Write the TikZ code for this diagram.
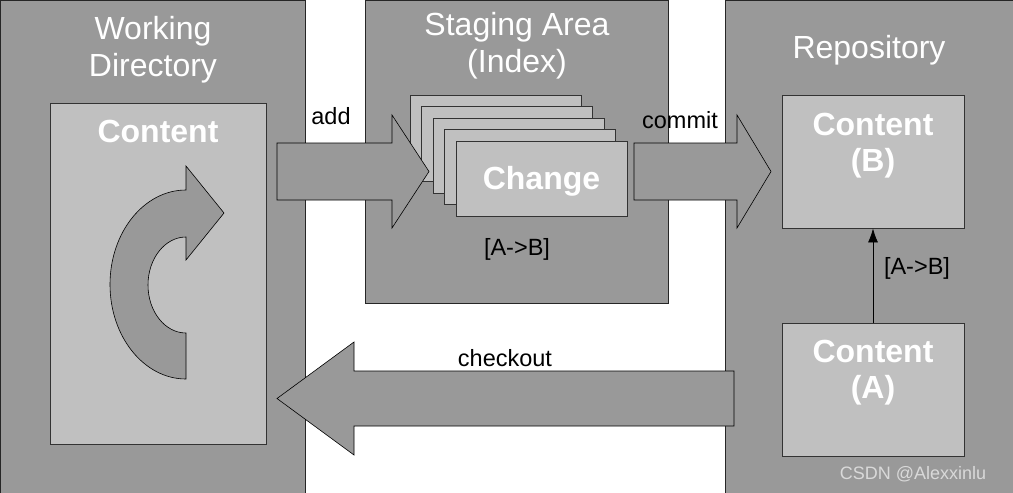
\documentclass[tikz,border=0pt]{standalone}
\usepackage{fontspec}
\setmainfont{Liberation Sans}
\usetikzlibrary{positioning,arrows.meta}
\definecolor{panelgray}{HTML}{999999}
\definecolor{boxgray}{HTML}{C0C0C0}
\begin{document}
\begin{tikzpicture}[
    x=1pt, y=1pt,
    panel/.style={draw=black!85, fill=panelgray, line width=0.8pt},
    box/.style={draw=black!80, fill=boxgray, line width=0.8pt, inner sep=0pt},
    card/.style={box, minimum width=171pt, minimum height=75pt},
    title/.style={text=white, align=center, font=\fontsize{32}{37}\selectfont},
    boxtext/.style={text=white, align=center, font=\fontsize{32}{36}\selectfont\bfseries},
    label/.style={text=black, font=\fontsize{23.5}{26}\selectfont},
    flow/.style={draw=black, fill=panelgray, line width=0.6pt}
]
\useasboundingbox (0,0) rectangle (1013,-493);

% the three areas
\draw[panel] (0,0) rectangle (305,-495);
\draw[panel] (365,0) rectangle (668,-303);
\draw[panel] (725,0) rectangle (1015,-495);
\node[title] (wdtitle) at (153,-50) {Working\\Directory};
\node[title] (satitle) at (517,-46) {Staging Area\\(Index)};
\node[title] (repotitle) at (869,-50) {Repository};

% working directory
\node[box, minimum width=216pt, minimum height=341pt] (wdbox) at (158,-273.5) {};
\node[boxtext] (wdlabel) at (158,-131) {Content};
\draw[flow] (186,-190) arc[start angle=90, end angle=270, x radius=76pt, y radius=94.5pt]
    -- (186,-333) arc[start angle=270, end angle=90, x radius=38pt, y radius=48pt]
    -- (186,-260) -- (224,-213) -- (186,-166) -- cycle;

% staging area
\foreach \i in {0,...,4}
    \node[card] (card\i) at (495.5+11.5*\i, -132.5-11.5*\i) {};
\node[boxtext] (change) at (541.5,-181) {Change};
\node[label] (salabel) at (517,-249) {[A->B]};

% repository
\node[box, minimum width=182pt, minimum height=133pt] (boxB) at (873,-161.5) {};
\node[boxtext] (contB) at (873,-146) {Content\\(B)};
\node[box, minimum width=182pt, minimum height=133pt] (boxA) at (873,-389.5) {};
\node[boxtext] (contA) at (873,-373) {Content\\(A)};
\draw[-{Latex[length=14pt,width=10pt]}, line width=0.8pt] (boxA.north) -- (boxB.south);
\node[label] (repolabel) at (917,-268) {[A->B]};

% big arrows between the areas
\draw[flow] (277,-143) -- (392,-143) -- (392,-115) -- (429,-171.5)
    -- (392,-228) -- (392,-200) -- (277,-200) -- cycle;
\node[label] (add) at (331,-116) {add};
\draw[flow] (634,-143) -- (737,-143) -- (737,-115) -- (771,-171.5)
    -- (737,-228) -- (737,-200) -- (634,-200) -- cycle;
\node[label] (commit) at (680,-120) {commit};
\draw[flow] (734,-371) -- (354,-371) -- (354,-342) -- (277,-398.5)
    -- (354,-455) -- (354,-426) -- (734,-426) -- cycle;
\node[label] (checkout) at (505,-358) {checkout};

\node[text=black!15, font=\fontsize{18}{20}\selectfont] (mark) at (913,-474) {CSDN @Alexxinlu};
\end{tikzpicture}
\end{document}
